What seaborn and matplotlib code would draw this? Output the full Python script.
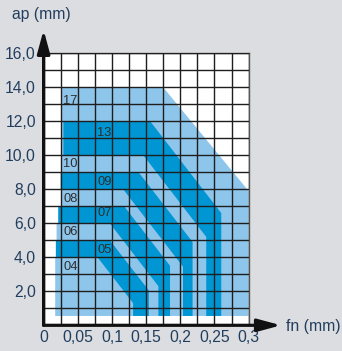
import numpy as np
import seaborn as sns
import matplotlib.pyplot as plt

sns.set_style('white')
plt.rcParams['font.family'] = ['Liberation Sans', 'DejaVu Sans']

# axis ticks
x_ticks = [0, 0.05, 0.1, 0.15, 0.2, 0.25, 0.3]
x_tick_labels = ['0', '0,05', '0,1', '0,15', '0,2', '0,25', '0,3']
y_ticks = [2, 4, 6, 8, 10, 12, 14, 16]
y_tick_labels = ['2,0', '4,0', '6,0', '8,0', '10,0', '12,0', '14,0', '16,0']

# light application area (outline)
light_fn = [0.017, 0.300, 0.300, 0.175, 0.027, 0.027, 0.0215, 0.0215, 0.019, 0.019, 0.018, 0.018, 0.017]
light_ap = [0.55, 0.55, 7.9, 14.0, 14.0, 7.0, 7.0, 6.0, 6.0, 5.0, 5.0, 4.0, 4.0]

# dark bands
band05_fn = [0.018, 0.097, 0.154, 0.154, 0.131, 0.131, 0.079, 0.018]
band05_ap = [5, 5, 2.05, 0.55, 0.55, 1.3, 4, 4]
band07_fn = [0.0215, 0.118, 0.185, 0.185, 0.168, 0.168, 0.097, 0.0215]
band07_ap = [7, 7, 3.5, 0.55, 0.55, 2.3, 6, 6]
band09_fn = [0.025, 0.139, 0.218, 0.218, 0.204, 0.204, 0.1165, 0.025]
band09_ap = [9, 9, 4.9, 0.55, 0.55, 3.45, 8, 8]
band13_fn = [0.029, 0.156, 0.260, 0.260, 0.238, 0.238, 0.146, 0.029]
band13_ap = [12, 12, 6.6, 0.55, 0.55, 5.2, 10, 10]

# zone labels
zone_names = ['17', '13', '10', '09', '08', '07', '06', '05', '04']
zone_fn = [0.0285, 0.0785, 0.0285, 0.0785, 0.0285, 0.0785, 0.0285, 0.0785, 0.0285]
zone_ap = [13.2, 11.3, 9.5, 8.45, 7.44, 6.58, 5.47, 4.41, 3.41]

bg = '#dcdde0'
light = '#8ec5ea'
dark = '#0096d4'
txt = '#223e5f'

fig = plt.figure(figsize=(3.42, 3.51), dpi=100, facecolor=bg)
ax = fig.add_axes([43.6 / 342, (351 - 325.3) / 351, (248.6 - 43.6) / 342, (325.3 - 53.3) / 351])
ax.set_facecolor('white')
ax.set_xlim(0, 0.3)
ax.set_ylim(0, 16)

ax.fill(light_fn, light_ap, color=light, lw=0, zorder=1)
for bfn, bap in [(band05_fn, band05_ap), (band07_fn, band07_ap),
                 (band09_fn, band09_ap), (band13_fn, band13_ap)]:
    ax.fill(bfn, bap, color=dark, lw=0, zorder=1.2)

for name, fx, fy in zip(zone_names, zone_fn, zone_ap):
    ax.text(fx, fy, name, fontsize=9.3, color='#2e2e2e', ha='left', va='center', zorder=4)

# grid
ax.set_xticks(x_ticks)
ax.set_xticklabels(x_tick_labels)
ax.set_xticks(np.arange(0.025, 0.3, 0.05), minor=True)
ax.set_yticks(y_ticks)
ax.set_yticklabels(y_tick_labels)
ax.set_yticks(np.arange(1, 16, 2), minor=True)
ax.set_axisbelow(False)
ax.grid(which='both', color='#1e1e1e', lw=1.0, zorder=2)
ax.tick_params(which='both', length=0, labelsize=11.3, labelcolor=txt)
ax.tick_params(axis='x', pad=3.5)
ax.tick_params(axis='y', pad=5.5)

for s in ['top', 'right']:
    ax.spines[s].set_color('#555555')
    ax.spines[s].set_linewidth(1.0)
for s in ['left', 'bottom']:
    ax.spines[s].set_visible(False)

# axis arrows
arrow = dict(arrowstyle='-|>,head_length=1.0,head_width=0.27', lw=2.3, color='#111111',
             mutation_scale=14, shrinkA=0, shrinkB=0)
ax.annotate('', xy=(0.3475, 0), xytext=(0, 0), arrowprops=arrow, annotation_clip=False, zorder=5)
ax.annotate('', xy=(0, 17.38), xytext=(0, 0), arrowprops=arrow, annotation_clip=False, zorder=5)

fig.text(11.5 / 342, 1 - 14 / 351, 'ap (mm)', fontsize=11.3, color=txt, ha='left', va='center')
fig.text(286 / 342, 1 - 326.5 / 351, 'fn (mm)', fontsize=11.3, color=txt, ha='left', va='center')

fig.savefig('out.png', dpi=100, facecolor=bg)
